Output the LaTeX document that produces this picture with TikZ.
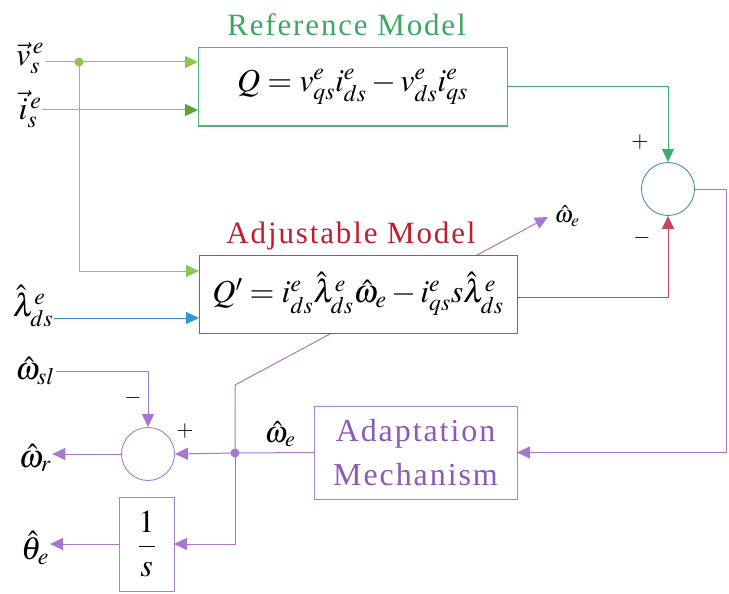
\documentclass[tikz,border=0pt]{standalone}
\usepackage{amsmath}
\usepackage{mathptmx}
\usepackage[no-math]{fontspec}
\setmainfont{Liberation Serif}
\newfontfamily\ttlfont[LetterSpace=6]{Liberation Serif}
\usetikzlibrary{shapes, arrows.meta, positioning}

\definecolor{refgreen}{RGB}{60,168,95}
\definecolor{refframe}{RGB}{80,180,125}
\definecolor{lgreen}{RGB}{140,200,80}
\definecolor{dgreen}{RGB}{95,160,50}
\definecolor{gwire}{RGB}{60,175,110}
\definecolor{adjred}{RGB}{190,30,45}
\definecolor{rwire}{RGB}{200,70,95}
\definecolor{bwire}{RGB}{50,150,210}
\definecolor{sumblue}{RGB}{70,140,190}
\definecolor{pwire}{RGB}{165,120,205}
\definecolor{pframe}{RGB}{170,130,210}
\definecolor{ptext}{RGB}{140,90,180}

\begin{document}
\begin{tikzpicture}[
    x=1pt, y=-1pt,
    box/.style={
        rectangle, draw, fill=white,
        line width=1pt, inner sep=0pt, outer sep=0pt,
        align=center,
        font=\fontsize{32}{36}\selectfont
    },
    sumnode/.style={circle, draw, fill=white, minimum size=53pt, inner sep=0pt, line width=0.9pt},
    lbl/.style={font=\fontsize{32}{36}\selectfont, inner sep=1pt},
    sgn/.style={font=\fontsize{22}{26}\selectfont, inner sep=0pt},
    ttl/.style={font=\ttlfont\fontsize{31}{36}\selectfont, inner sep=1pt},
    wire/.style={line width=1pt},
    arrow/.style={-{Triangle[length=13pt,width=12pt]}, line width=1pt}
]
\useasboundingbox (0,0) rectangle (729,594);

% Coordinates
\coordinate (dot1) at (79,62);
\coordinate (dot2) at (235,453);
\coordinate (kink) at (235,385);
\coordinate (wtip) at (548,217);

% Wire behind the adjustable model
\draw[arrow, pwire] (dot2) -- (kink) -- (wtip);

% Nodes
\node[box, draw=refframe, minimum width=309, minimum height=78] (refm) at (352.5,87)
    {$Q = v^e_{qs} i^e_{ds} - v^e_{ds} i^e_{qs}$};

\node[box, draw=none, minimum width=318, minimum height=78] (adjm) at (358,294)
    {$Q' = i^e_{ds}\hat{\lambda}^e_{ds}\hat{\omega}_e - i^e_{qs}s\hat{\lambda}^e_{ds}$};

\node[sumnode, draw=sumblue] (sum1) at (668,189) {};

\node[sumnode, draw=pwire] (sum2) at (148,454) {};

\node[box, draw=pframe, minimum width=55, minimum height=94] (integ) at (146.5,544)
    {$\dfrac{1}{s}$};

\node[box, draw=pframe, text=ptext, minimum width=203, minimum height=93,
    font=\ttlfont\fontsize{32}{44}\selectfont] (adapt) at (415.5,452.5)
    {Adaptation\\Mechanism};

% Titles
\node[ttl, text=refgreen, above=11pt of refm, xshift=-6pt] (reft) {Reference Model};
\node[ttl, text=adjred, above=4pt of adjm, xshift=-7pt] (adjt) {Adjustable Model};

% Labels
\node[lbl] (vs) at (30,58) {$\vec{v}_s^{\,e}$};
\node[lbl] (is) at (30,109) {$\vec{i}_s^{\,e}$};
\node[lbl] (lam) at (33,306) {$\hat{\lambda}^e_{ds}$};
\node[lbl] (wsl) at (35,371) {$\hat{\omega}_{sl}$};
\node[lbl] (wr) at (35,458) {$\hat{\omega}_r$};
\node[lbl] (th) at (35,548) {$\hat{\theta}_e$};
\node[lbl, font=\fontsize{24}{28}\selectfont] (we1) at (567,216) {$\hat{\omega}_e$};
\node[lbl, font=\fontsize{30}{34}\selectfont] (we2) at (280,434) {$\hat{\omega}_e$};

\node[sgn] (p1) at (640,142) {$+$};
\node[sgn] (m1) at (642,238) {$-$};
\node[sgn] (p2) at (185,431) {$+$};
\node[sgn] (m2) at (133,398) {$-$};

% Arrows
\draw[wire, lgreen] (vs.east |- dot1) -- (dot1);
\draw[arrow, lgreen] (dot1) -- (dot1 -| refm.west);
\draw[arrow, lgreen, -{Triangle[length=13pt,width=12pt,color=dgreen]}]
    ([yshift=-1pt]is.east) -- ([yshift=-1pt]is.east -| refm.west);
\draw[arrow, lgreen] (dot1) |- ([yshift=23pt]adjm.west);
\fill[lgreen] (dot1) circle (4.5);
\draw[arrow, bwire] ([yshift=-12pt]lam.east) -- ([yshift=-12pt]lam.east -| adjm.west);

\draw[arrow, gwire] (refm.east) -| (sum1.north);
\draw[arrow, rwire] ([yshift=-3pt]adjm.east) -| (sum1.south);
\draw[arrow, pwire] (sum1.east) -- ++(32,0) |- (adapt.east);

\draw[wire, pwire] (adapt.west) -- (dot2);
\draw[arrow, pwire] (dot2) -- (sum2.east);
\draw[arrow, pwire] (dot2) |- (integ.east);
\fill[pwire] (dot2) circle (4.5);
\draw[arrow, pwire] (wsl.east) -| (sum2.north);
\draw[arrow, pwire] (sum2.west) -- (sum2.west -| wr.east);
\draw[arrow, pwire] (integ.west) -- (integ.west -| th.east);

% Frame of the adjustable model
\draw[draw={rgb,255:red,210;green,60;blue,75}, line width=1pt]
    (adjm.south west) rectangle (adjm.north east);

\end{tikzpicture}
\end{document}
